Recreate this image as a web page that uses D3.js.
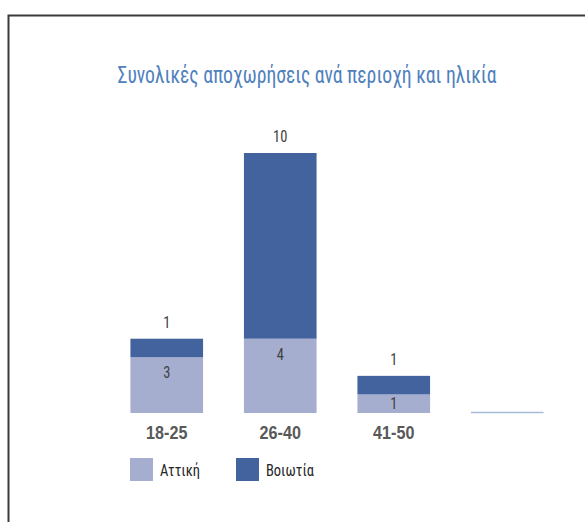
<!DOCTYPE html>
<html>

<head>
    <meta charset="utf-8">
    <title>Συνολικές αποχωρήσεις ανά περιοχή και ηλικία</title>
    <script type="text/javascript" src="https://d3js.org/d3.v7.min.js"></script>
    <style>
        body { margin: 0; background: #fff; }
        text { font-family: "Liberation Sans Narrow", "Roboto Condensed", "Liberation Sans", sans-serif; }
    </style>
</head>

<body>
    <script type="text/javascript">
        //Chart data
        var categories = ["18-25", "26-40", "41-50", ""];
        var attiki = [3, 4, 1, 0];
        var voiotia = [1, 10, 1, 0];
        var seriesNames = ["Αττική", "Βοιωτία"];
        var seriesColors = ["#a6aed0", "#42639d"];

        //Width and height
        var w = 585;
        var h = 522;

        var svg = d3.select("body")
            .append("svg")
            .attr("width", w)
            .attr("height", h);

        //Outer frame (runs off the right and bottom edges)
        svg.append("path")
            .attr("d", "M8.5," + h + "V15.5H" + w)
            .attr("fill", "none")
            .attr("stroke", "#3a3a3a")
            .attr("stroke-width", 2);

        //Title - squeezed to the condensed width of the original
        svg.append("text")
            .attr("x", 307)
            .attr("y", 83)
            .attr("text-anchor", "middle")
            .attr("fill", "#4f81bd")
            .attr("textLength", 379)
            .attr("lengthAdjust", "spacingAndGlyphs")
            .style("font-size", "23px")
            .text("Συνολικές αποχωρήσεις ανά περιοχή και ηλικία");

        //Scales
        var x = d3.scaleBand()
            .domain(categories)
            .range([110, 564])
            .paddingInner(0.36)
            .paddingOuter(0.18);

        var y = d3.scaleLinear()
            .domain([0, 14])
            .range([413, 153]);

        //Stack the two series
        var rows = categories.map(function(c, i) {
            return { cat: c, a: attiki[i], v: voiotia[i] };
        });
        var stack = d3.stack().keys(["a", "v"]);
        var layers = stack(rows);

        var g = svg.append("g");

        layers.forEach(function(layer, li) {
            g.selectAll(".bar" + li)
                .data(layer.filter(function(d) { return d[1] - d[0] > 0; }))
                .enter()
                .append("rect")
                .attr("x", function(d) { return x(d.data.cat); })
                .attr("width", x.bandwidth())
                .attr("y", function(d) { return y(d[1]); })
                .attr("height", function(d) { return y(d[0]) - y(d[1]); })
                .attr("fill", seriesColors[li]);
        });

        //Baseline stub under the empty category
        var emptyCats = categories.filter(function(c, i) { return attiki[i] + voiotia[i] === 0; });
        g.selectAll(".stub")
            .data(emptyCats)
            .enter()
            .append("line")
            .attr("x1", function(d) { return x(d); })
            .attr("x2", function(d) { return x(d) + x.bandwidth(); })
            .attr("y1", y(0) - 0.5)
            .attr("y2", y(0) - 0.5)
            .attr("stroke", "#a9bbdc")
            .attr("stroke-width", 1.5);

        //helper: narrow the glyphs a little, like the condensed face of the original
        function squeeze(sel, k) {
            sel.attr("transform", function() {
                var t = d3.select(this);
                var cx = +t.attr("x") || 0;
                return "translate(" + cx + ",0) scale(" + k + ",1) translate(" + (-cx) + ",0)";
            });
        }

        //Value labels: Αττική inside the top of its segment
        g.selectAll(".lblA")
            .data(layers[0].filter(function(d) { return d[1] - d[0] > 0; }))
            .enter()
            .append("text")
            .attr("x", function(d) { return x(d.data.cat) + x.bandwidth() / 2; })
            .attr("y", function(d) {
                var top = y(d[1]);
                var hgt = y(d[0]) - top;
                return top + Math.min(15, hgt / 2 - 1) + 6;
            })
            .attr("text-anchor", "middle")
            .attr("fill", "#404040")
            .style("font-size", "17px")
            .text(function(d) { return d[1] - d[0]; })
            .call(squeeze, 0.85);

        //Value labels: Βοιωτία above the bar
        g.selectAll(".lblV")
            .data(layers[1].filter(function(d) { return d[1] - d[0] > 0; }))
            .enter()
            .append("text")
            .attr("x", function(d) { return x(d.data.cat) + x.bandwidth() / 2; })
            .attr("y", function(d) { return y(d[1]) - 11; })
            .attr("text-anchor", "middle")
            .attr("fill", "#404040")
            .style("font-size", "17px")
            .text(function(d) { return d[1] - d[0]; })
            .call(squeeze, 0.85);

        //Category axis (labels only)
        var xAxis = d3.axisBottom(x).tickSize(0).tickPadding(0);
        var ax = svg.append("g")
            .attr("transform", "translate(0," + 425 + ")")
            .call(xAxis);
        ax.select(".domain").remove();
        ax.selectAll("text")
            .attr("dy", "0.71em")
            .attr("fill", "#595959")
            .style("font-size", "19px")
            .style("font-weight", "bold")
            .style("font-family", "\"Liberation Sans Narrow\", \"Liberation Sans\", sans-serif")
            .attr("transform", "scale(0.85,1)");

        //Legend
        var legend = svg.selectAll(".legend")
            .data(seriesNames)
            .enter()
            .append("g")
            .attr("transform", function(d, i) { return "translate(" + (130 + i * 106) + ",458)"; });

        legend.append("rect")
            .attr("width", 23)
            .attr("height", 23)
            .attr("fill", function(d, i) { return seriesColors[i]; });

        legend.append("text")
            .attr("x", 30)
            .attr("y", 18)
            .attr("fill", "#262626")
            .style("font-size", "17px")
            .attr("transform", "translate(30,0) scale(0.85,1) translate(-30,0)")
            .text(function(d) { return d; });
    </script>
</body>

</html>
